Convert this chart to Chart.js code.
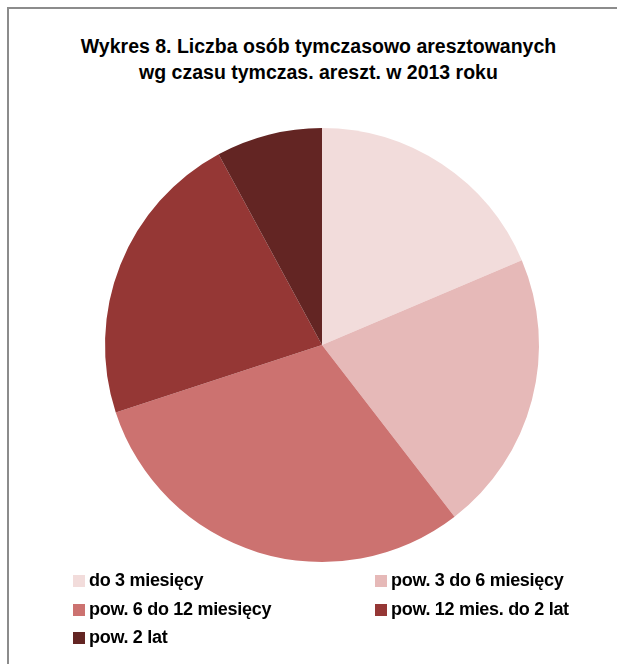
<!DOCTYPE html>
<html>
<head>
<meta charset="utf-8">
<script src="https://cdn.jsdelivr.net/npm/chart.js@4"></script>
<style>
  html, body { margin: 0; padding: 0; background: #fff; }
  #wrap { position: relative; width: 617px; height: 664px; overflow: hidden; font-family: "Liberation Sans", Arial, sans-serif; }
  #frame { position: absolute; left: 7px; top: 7px; width: 640px; height: 700px; border-left: 2px solid #8c8c8c; border-top: 2px solid #8c8c8c; box-sizing: border-box; }
  #tytul { position: absolute; left: 0; width: 637px; top: 33px; text-align: center; font-weight: bold; font-size: 19.5px; line-height: 26px; color: #000; }
  #wykres { position: absolute; left: 0; top: 0; width: 617px; height: 664px; }
  #legenda { position: absolute; left: 73px; top: 570px; width: 540px; }
  .poz { position: absolute; font-weight: bold; font-size: 18px; letter-spacing: -0.3px; color: #000; white-space: nowrap; line-height: 20px; }
  .kw { display: inline-block; width: 12px; height: 12px; margin-right: 4px; vertical-align: -1px; }
</style>
</head>
<body>
<div id="wrap">
  <div id="frame"></div>
  <div id="tytul">Wykres 8. Liczba osób tymczasowo aresztowanych<br>wg czasu tymczas. areszt. w 2013 roku</div>
  <div id="wykres"><canvas id="c"></canvas></div>
  <div id="legenda"></div>
</div>
<script>
const kategorie = ['do 3 miesięcy', 'pow. 3 do 6 miesięcy', 'pow. 6 do 12 miesięcy', 'pow. 12 mies. do 2 lat', 'pow. 2 lat'];
const wartosci = [18.6, 20.9, 30.4, 22.1, 7.9];
const kolory = ['#F2DCDB', '#E6B9B8', '#CC7270', '#953735', '#632523'];

const ctx = document.getElementById('c').getContext('2d');
const chart = new Chart(ctx, {
    type: 'pie',
    data: {
        labels: kategorie,
        datasets: [{ data: wartosci, backgroundColor: kolory, borderWidth: 0 }]
    },
    options: {
        responsive: true,
        maintainAspectRatio: false,
        animation: false,
        layout: { padding: { left: 105, right: 78, top: 128, bottom: 102 } },
        plugins: {
            legend: { display: false },
            tooltip: { enabled: false }
        }
    }
});

// legenda w dwoch kolumnach, jak w oryginale
const leg = document.getElementById('legenda');
kategorie.forEach((k, i) => {
    const el = document.createElement('div');
    el.className = 'poz';
    el.style.left = (i % 2 ? 302 : 0) + 'px';
    el.style.top = (Math.floor(i / 2) * 28.5) + 'px';
    el.innerHTML = '<span class="kw" style="background:' + kolory[i] + '"></span>' + k;
    leg.appendChild(el);
});
</script>
</body>
</html>
